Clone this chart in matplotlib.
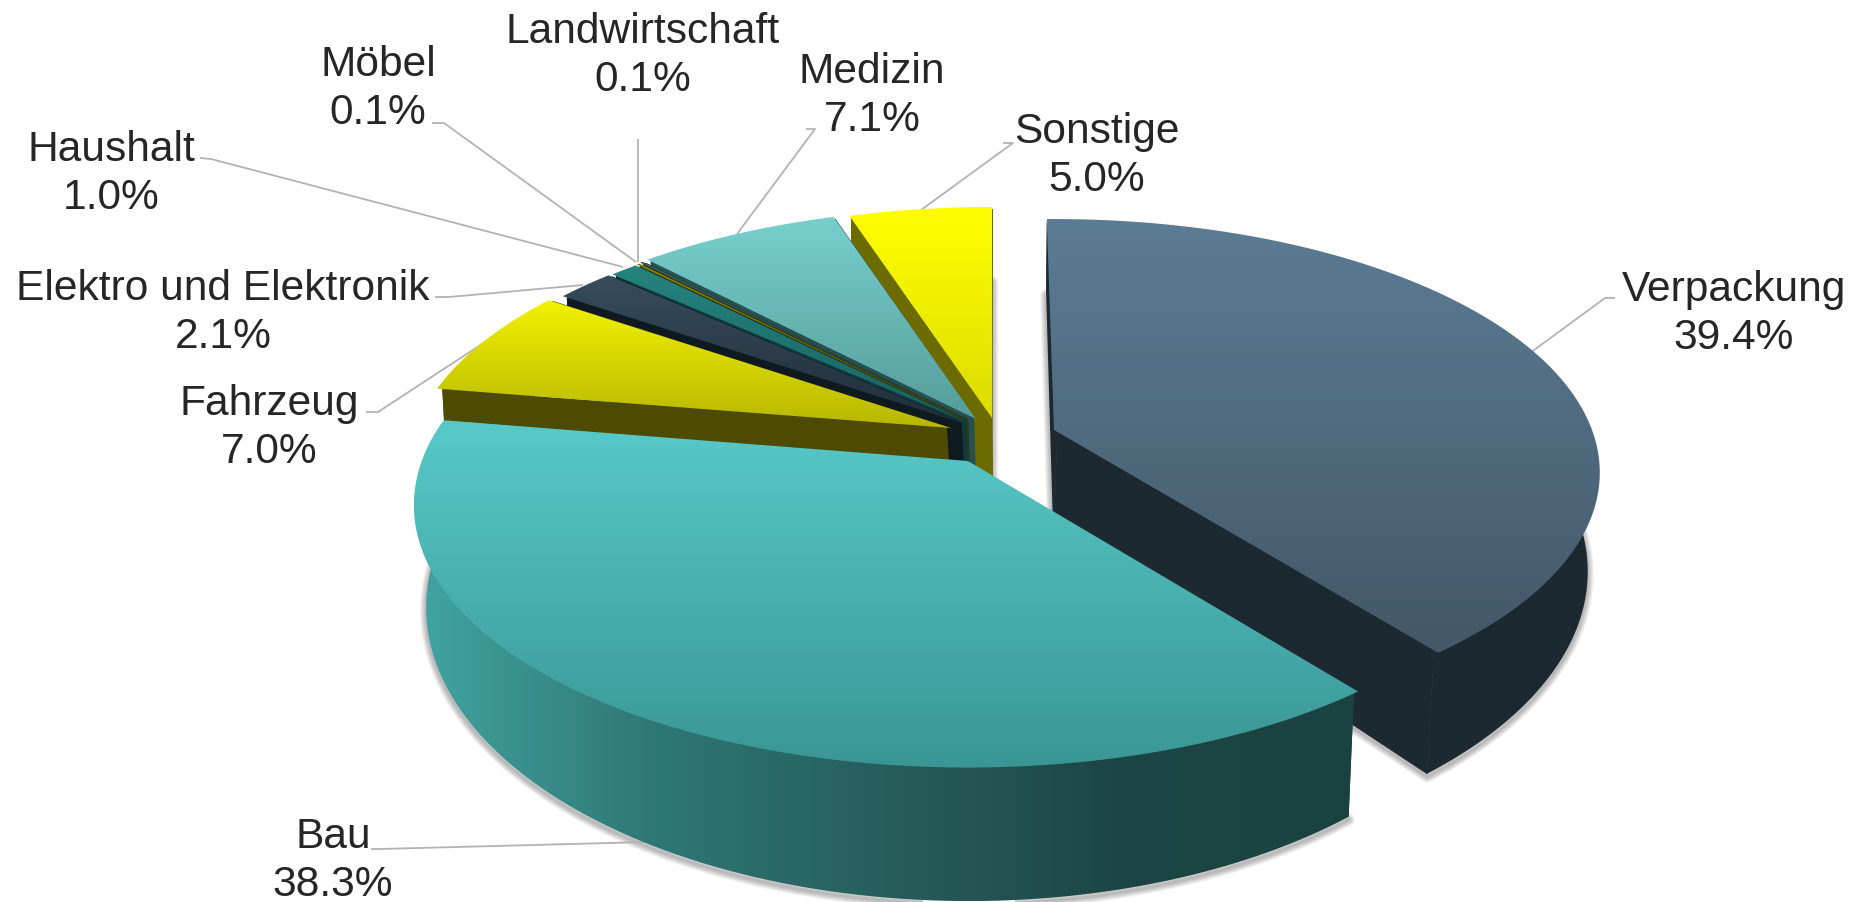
import numpy as np
import matplotlib
matplotlib.use('Agg')
import matplotlib.pyplot as plt
from matplotlib.colors import LinearSegmentedColormap
from matplotlib.patches import Polygon

# values in percent, clockwise from 12 o'clock
categories = ['Verpackung', 'Bau', 'Fahrzeug', 'Elektro und Elektronik', 'Haushalt',
              'Möbel', 'Landwirtschaft', 'Medizin', 'Sonstige']
values = [39.4, 38.3, 7.0, 2.1, 1.0, 0.1, 0.1, 7.1, 5.0]

# exploded apex of each slice in pixels
apexes = [(1054, 431), (968, 462), (951, 429), (965, 425), (969, 424),
          (970, 423), (971, 422), (976, 420), (992, 419)]
# radius tweak per slice
radius_scale = [0.98, 0.995, 0.975, 0.975, 0.975, 0.975, 0.975, 0.975, 0.975]
height_scale = [1, 1.035, 1, 1, 1, 1, 1, 1, 1]

top_colors = [('#5C7C94', '#435868'), ('#57CAC8', '#3A9694'), ('#F2F200', '#B6B600'),
              ('#374C5C', '#1F2E3A'), ('#26837F', '#186260'), ('#8A8600', '#6E6A00'),
              ('#3B5A5A', '#2A4444'), ('#77D0CE', '#569D9B'), ('#FFFF00', '#DCDC00')]
wall_colors = ['#1D2930', None, '#4D4B00', '#0F1A20', '#0D3A3A', '#3A3800',
               '#1E3A3A', '#26514F', '#6B6B00']
bau_wall_colors = ['#41A3A1', '#2F7775', '#265E5C', '#1C4645', '#1A4241']
label_color = '#262626'
leader_color = '#B3B3B3'

# label centre, leader line
labels_layout = [
    ((1734, 314), [(1530, 354), (1605, 299), (1615, 299)]),
    ((333, 861), [(648, 843), (380, 850), (371, 850)]),
    ((269, 428), [(485, 343), (378, 413), (366, 413)]),
    ((223, 313), [(583, 286), (449, 298), (435, 298)]),
    ((111, 174), [(623, 268), (211, 160), (200, 159)]),
    ((378, 89), [(636, 263), (444, 124), (432, 124)]),
    ((643, 56), [(638, 263), (638, 140)]),
    ((872, 96), [(737, 235), (815, 130), (806, 130)]),
    ((1097, 156), [(921, 211), (1013, 144), (1003, 144)]),
]

RX, RY, PERSP = 549, 246.4, 0.168
VANISH = np.array([1000.0, 5500.0])


def project(theta, apex, scale, yscale):
    u, v = np.sin(theta), np.cos(theta)
    p = 1 / (1 + PERSP * v)
    return np.column_stack([apex[0] + RX * scale * u * p, apex[1] - RY * yscale * v * p])


def lower(pts):
    # wall gets taller towards the viewer, verticals lean to the vanishing point
    thick = 49 + 0.11 * pts[:, 1]
    x = pts[:, 0] + (VANISH[0] - pts[:, 0]) * thick / (VANISH[1] - pts[:, 1])
    return np.column_stack([x, pts[:, 1] + thick])


def gradient_fill(ax, pts, colors, vertical=True):
    # imshow clipped by the polygon, there is no gradient patch
    cmap = LinearSegmentedColormap.from_list('g', colors)
    x0, y0 = pts.min(axis=0)
    x1, y1 = pts.max(axis=0)
    ramp = np.linspace(0, 1, 256)
    ramp = ramp.reshape(-1, 1) if vertical else ramp.reshape(1, -1)
    im = ax.imshow(ramp, cmap=cmap, extent=[x0, x1, y1, y0], origin='upper',
                   aspect='auto', interpolation='bilinear', zorder=2)
    clip = Polygon(pts, closed=True, transform=ax.transData)
    im.set_clip_path(clip)
    return im


def flat_fill(ax, pts, color, edge=False):
    ax.add_patch(Polygon(pts, closed=True, facecolor=color,
                         edgecolor=color if edge else 'none', lw=0.8, zorder=2))


fig = plt.figure(figsize=(18.51, 9.03), dpi=100)
ax = fig.add_axes([0, 0, 1, 1])

total = sum(values)
edges = np.radians(np.cumsum([0] + values) / total * 360)

slices = []
for i in range(len(values)):
    t0, t1 = edges[i], edges[i + 1]
    if i == 0:
        t0 = t0 - np.radians(0.9)
    theta = np.linspace(t0, t1, max(int(np.degrees(t1 - t0) * 2), 6))
    arc = project(theta, apexes[i], radius_scale[i], height_scale[i])
    apex = np.array([apexes[i]], dtype=float)
    slices.append((arc, apex))

# soft shadow of the bottom faces goes under everything
for arc, apex in slices:
    bottom = lower(np.vstack([apex, arc])) + np.array([0, 3])
    for w in [2, 4, 6, 8, 10, 12]:
        ax.add_patch(Polygon(bottom, closed=True, facecolor='none', edgecolor='#404040',
                             alpha=0.07, lw=w * 0.72, joinstyle='round', zorder=1))

# painter's order: back slices first, Verpackung and Bau last
for i in [8, 7, 6, 5, 4, 3, 2, 0, 1]:
    arc, apex = slices[i]
    # upper wall edges sit slightly under the top face, so no seam and no outline
    arc_in = apex + (arc - apex) * 0.99
    apex_in = apex + (arc.mean(axis=0) - apex) * 0.01
    first = np.vstack([apex_in, arc_in[:1], lower(arc[:1]), lower(apex)])
    last = np.vstack([apex_in, arc_in[-1:], lower(arc[-1:]), lower(apex)])
    outer = np.vstack([arc_in, lower(arc)[::-1]])
    wall = wall_colors[i]
    if wall is None:
        flat_fill(ax, first, bau_wall_colors[-1])
        flat_fill(ax, last, bau_wall_colors[0])
        gradient_fill(ax, outer, bau_wall_colors, vertical=False)
    else:
        flat_fill(ax, first, wall)
        flat_fill(ax, outer, wall)
        flat_fill(ax, last, wall, edge=True)
    gradient_fill(ax, np.vstack([apex, arc]), top_colors[i])

for name, value, (pos, line) in zip(categories, values, labels_layout):
    xs, ys = zip(*line)
    ax.plot(xs, ys, color=leader_color, lw=1.3, solid_capstyle='butt', zorder=1.5)
    ax.text(pos[0], pos[1], f'{name}\n{value:.1f}%', ha='center', va='center',
            fontsize=30.6, color=label_color, family='Liberation Sans', linespacing=1.27,
            zorder=5)

ax.set_xlim(0, 1851)
ax.set_ylim(903, 0)
ax.axis('off')

fig.savefig('out.png', dpi=100)
